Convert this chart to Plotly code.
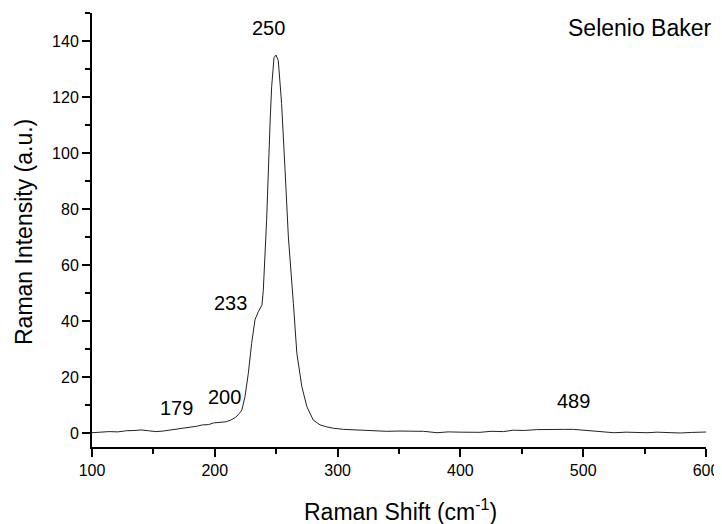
import plotly.graph_objects as go

# Raman spectrum points
shift = [100, 107, 114, 121, 128, 135, 140, 146, 152, 158, 165, 172, 178, 185, 190, 195,
         199, 204, 209, 213, 217, 220, 222, 224.6, 227.3, 230, 232.7, 235.4, 238.4,
         239.5, 241, 242.2, 245.1, 246.3, 248.2, 249.8, 251.7, 254.4, 257.2, 259.9,
         264, 266.8, 270.9, 275, 280.2, 285.7, 291, 296.5, 305, 313, 321, 330, 340,
         350, 362, 370, 381, 390, 400, 416, 425, 435, 443, 452, 462, 470, 478, 484,
         492, 500, 506, 515, 525, 535, 545, 552, 560, 570, 579, 588, 595, 600]
intensity = [0.1, 0.3, 0.5, 0.4, 0.8, 0.9, 1.1, 0.8, 0.5, 0.7, 1.1, 1.6, 1.8, 2.4, 2.9, 3.0,
             3.6, 3.8, 4.0, 4.6, 5.6, 7.0, 8.2, 13.0, 21.3, 32.0, 40.4, 43.3, 45.7,
             51.0, 65.0, 76.0, 111.8, 123.7, 134.0, 135.0, 133.0, 117.7, 94.0, 70.0,
             46.3, 28.5, 16.5, 9.4, 4.6, 2.9, 2.2, 1.7, 1.3, 1.1, 1.0, 0.9, 0.6,
             0.7, 0.5, 0.6, 0.1, 0.4, 0.3, 0.25, 0.6, 0.5, 1.0, 0.9, 1.2, 1.3, 1.4, 1.3,
             1.3, 1.0, 0.7, 0.5, 0.1, 0.3, 0.2, 0.1, 0.3, 0.1, 0.0, 0.2, 0.3, 0.35]

peak_labels = ["250", "233", "200", "179", "489"]
peak_x = [244, 213, 207.5, 168.4, 492.5]
peak_y = [144.6, 46.4, 12.9, 8.9, 11.4]

x_ticks = [100, 200, 300, 400, 500, 600]
x_minor = [150, 250, 350, 450, 550]
y_ticks = [0, 20, 40, 60, 80, 100, 120, 140]
y_minor = [10, 30, 50, 70, 90, 110, 130, 150]

FONT = "Liberation Sans, Arial, sans-serif"

fig = go.Figure()
fig.add_trace(go.Scatter(x=shift, y=intensity, mode="lines",
                         line=dict(color="#222222", width=1), showlegend=False,
                         hoverinfo="skip"))

for t, px, py in zip(peak_labels, peak_x, peak_y):
    fig.add_annotation(x=px, y=py, text=t, showarrow=False, xref="x", yref="y",
                       font=dict(size=20, color="black", family=FONT))

fig.add_annotation(x=546.6, y=144.8, text="Selenio Baker", showarrow=False,
                   xref="x", yref="y", font=dict(size=23, color="black", family=FONT))

# axis titles (paper coords relative to plot area: x 92..706, y 13..447 in page px)
fig.add_annotation(x=(400 - 92) / 614, y=(447 - 510) / 434, xref="paper", yref="paper",
                   text="Raman Shift (cm<sup>-1</sup>)", showarrow=False,
                   xanchor="center", yanchor="middle",
                   font=dict(size=23, color="black", family=FONT))
fig.add_annotation(x=(24 - 92) / 614, y=(447 - 232) / 434, xref="paper", yref="paper",
                   text="Raman Intensity (a.u.)", showarrow=False, textangle=-90,
                   xanchor="center", yanchor="middle",
                   font=dict(size=23, color="black", family=FONT))

axis_common = dict(showgrid=False, zeroline=False, showline=True, linecolor="black",
                   linewidth=2, ticks="outside", ticklen=8, tickwidth=2,
                   tickcolor="black", automargin=False,
                   tickfont=dict(size=16, color="black", family=FONT),
                   mirror=False)

# page has an 8px body margin, so the figure is sized to fit the window
fig.update_layout(
    width=714, height=516,
    margin=dict(l=84, r=16, t=5, b=77),
    paper_bgcolor="white", plot_bgcolor="white",
    font=dict(family=FONT, color="black"),
    xaxis=dict(range=[100, 600], tickmode="array", tickvals=x_ticks,
               minor=dict(tickmode="array", tickvals=x_minor, ticks="outside",
                          ticklen=5, tickwidth=2, tickcolor="black"),
               **axis_common),
    yaxis=dict(range=[-5, 150], tickmode="array", tickvals=y_ticks,
               minor=dict(tickmode="array", tickvals=y_minor, ticks="outside",
                          ticklen=5, tickwidth=2, tickcolor="black"),
               **axis_common),
)

fig.write_html("out.html")
